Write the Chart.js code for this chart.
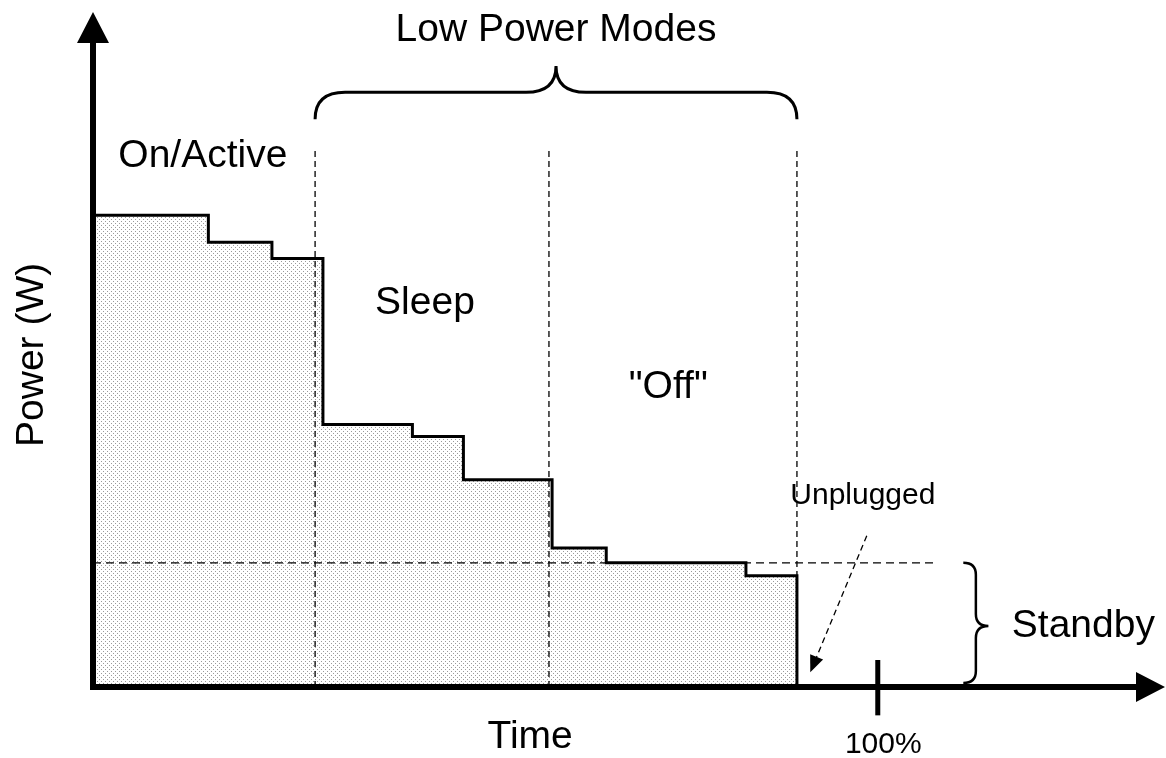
<!DOCTYPE html>
<html>
<head>
<meta charset="utf-8">
<script src="https://cdn.jsdelivr.net/npm/chart.js@4"></script>
<style>
  body { margin: 0; background: #fff; }
</style>
</head>
<body>
<canvas id="powerChart" width="1166" height="758"></canvas>
<script>
// step profile: power level starts at each time value
const timeX = [0, 14.7, 22.8, 29.3, 40.7, 47.2, 58.5, 65.4, 83.2, 89.7];
const powerW = [69.9, 65.9, 63.5, 38.9, 37.1, 30.7, 20.6, 18.4, 16.5, 0];
// dashed mode boundaries (Low power modes span first..last)
const modeBounds = [28.3, 58.1, 89.7];
const boundTop = 80;
const standbyLevel = 18.4;
const standbyEnd = 107.3;
const fullTime = 100;
const tickLabel = '100%';

const X_MAX = 136.6, Y_MAX = 100;
const FONT = '"Liberation Sans", Arial, sans-serif';

// dotted fill like the original hatch
function dotPattern() {
  const c = document.createElement('canvas');
  c.width = 4; c.height = 4;
  const g = c.getContext('2d');
  g.fillStyle = '#fff';
  g.fillRect(0, 0, 4, 4);
  g.fillStyle = '#9a9a9a';
  g.fillRect(1, 1, 1, 1);
  g.fillRect(3, 3, 1, 1);
  return g.createPattern(c, 'repeat');
}

const stepData = timeX.map((t, i) => ({ x: t, y: powerW[i] }));
const boundSets = modeBounds.map(b => ({
  data: [{ x: b, y: 0 }, { x: b, y: boundTop }],
  borderColor: '#000', borderWidth: 1.3, borderDash: [6, 4],
  pointRadius: 0, fill: false, order: 0
}));

const decor = {
  id: 'decor',
  afterDraw(chart) {
    const { ctx, scales: { x, y } } = chart;
    const X = v => x.getPixelForValue(v), Y = v => y.getPixelForValue(v);
    ctx.save();
    ctx.strokeStyle = '#000';
    ctx.fillStyle = '#000';

    // axes
    const ox = X(0), oy = Y(0);
    ctx.lineWidth = 6;
    ctx.beginPath();
    ctx.moveTo(ox, oy + 3);
    ctx.lineTo(ox, Y(Y_MAX) + 28);
    ctx.moveTo(ox - 3, oy);
    ctx.lineTo(X(X_MAX) - 26, oy);
    ctx.stroke();
    ctx.beginPath();
    ctx.moveTo(ox, Y(Y_MAX));
    ctx.lineTo(ox - 16, Y(Y_MAX) + 31);
    ctx.lineTo(ox + 16, Y(Y_MAX) + 31);
    ctx.closePath();
    ctx.moveTo(X(X_MAX), oy);
    ctx.lineTo(X(X_MAX) - 29, oy - 15);
    ctx.lineTo(X(X_MAX) - 29, oy + 15);
    ctx.closePath();
    ctx.fill();

    // 100% tick
    ctx.lineWidth = 5;
    ctx.beginPath();
    ctx.moveTo(X(fullTime), Y(4));
    ctx.lineTo(X(fullTime), Y(-4.2));
    ctx.stroke();

    // low power brace
    const bl = X(modeBounds[0]), br = X(modeBounds[2]), bt = X(59.0);
    const yEnd = Y(84.1), yLine = Y(88.1), yTip = Y(92.0), r = 30;
    ctx.lineWidth = 3;
    ctx.beginPath();
    ctx.moveTo(bl, yEnd);
    ctx.quadraticCurveTo(bl, yLine, bl + r, yLine);
    ctx.lineTo(bt - r, yLine);
    ctx.quadraticCurveTo(bt, yLine, bt, yTip);
    ctx.quadraticCurveTo(bt, yLine, bt + r, yLine);
    ctx.lineTo(br - r, yLine);
    ctx.quadraticCurveTo(br, yLine, br, yEnd);
    ctx.stroke();

    // standby brace
    const sx0 = X(110.9), sx1 = X(112.5), sxt = X(114.1);
    const st = Y(standbyLevel), sb = Y(0.6), sm = Y(9.05), rr = 12;
    ctx.lineWidth = 2.5;
    ctx.beginPath();
    ctx.moveTo(sx0, st);
    ctx.quadraticCurveTo(sx1, st, sx1, st + rr);
    ctx.lineTo(sx1, sm - rr);
    ctx.quadraticCurveTo(sx1, sm, sxt, sm);
    ctx.quadraticCurveTo(sx1, sm, sx1, sm + rr);
    ctx.lineTo(sx1, sb - rr);
    ctx.quadraticCurveTo(sx1, sb, sx0, sb);
    ctx.stroke();

    // unplugged arrow
    const ax0 = X(98.6), ay0 = Y(22.4), ax1 = X(91.4), ay1 = Y(2.2);
    const ang = Math.atan2(ay1 - ay0, ax1 - ax0);
    ctx.lineWidth = 1.3;
    ctx.setLineDash([6, 4]);
    ctx.beginPath();
    ctx.moveTo(ax0, ay0);
    ctx.lineTo(ax1 - 12 * Math.cos(ang), ay1 - 12 * Math.sin(ang));
    ctx.stroke();
    ctx.setLineDash([]);
    ctx.beginPath();
    ctx.moveTo(ax1, ay1);
    ctx.lineTo(ax1 - 18 * Math.cos(ang - 0.4), ay1 - 18 * Math.sin(ang - 0.4));
    ctx.lineTo(ax1 - 18 * Math.cos(ang + 0.4), ay1 - 18 * Math.sin(ang + 0.4));
    ctx.closePath();
    ctx.fill();

    // labels
    ctx.textAlign = 'center';
    ctx.textBaseline = 'middle';
    const big = '39px ' + FONT, small = '30px ' + FONT;
    const labels = [
      ['Low Power Modes', 59.0, 97.3, big],
      ['On/Active', 14.0, 78.6, big],
      ['Sleep', 42.3, 56.8, big],
      ['"Off"', 73.3, 44.4, big],
      ['Unplugged', 98.1, 28.3, small],
      ['Standby', 126.2, 9.0, big],
      ['Time', 55.7, -7.4, big],
      [tickLabel, 100.7, -8.6, small]
    ];
    labels.forEach(([t, vx, vy, f]) => {
      ctx.font = f;
      ctx.fillText(t, X(vx), Y(vy));
    });
    ctx.font = big;
    ctx.translate(X(-7.8), Y(49.2));
    ctx.rotate(-Math.PI / 2);
    ctx.fillText('Power (W)', 0, 0);
    ctx.restore();
  }
};

new Chart(document.getElementById('powerChart'), {
  type: 'line',
  data: {
    datasets: [
      {
        data: [{ x: 0, y: standbyLevel }, { x: standbyEnd, y: standbyLevel }],
        borderColor: '#000', borderWidth: 1.3, borderDash: [8, 5],
        pointRadius: 0, fill: false, order: 0
      },
      ...boundSets,
      {
        data: stepData,
        stepped: 'before',
        borderColor: '#000', borderWidth: 3,
        backgroundColor: dotPattern(),
        fill: 'origin', pointRadius: 0, order: 1
      }
    ]
  },
  options: {
    responsive: false,
    animation: false,
    layout: { padding: { left: 93, right: 1, top: 12, bottom: 71 } },
    plugins: { legend: { display: false }, tooltip: { enabled: false } },
    scales: {
      x: { type: 'linear', min: 0, max: X_MAX, display: false },
      y: { min: 0, max: Y_MAX, display: false }
    }
  },
  plugins: [decor]
});
</script>
</body>
</html>
